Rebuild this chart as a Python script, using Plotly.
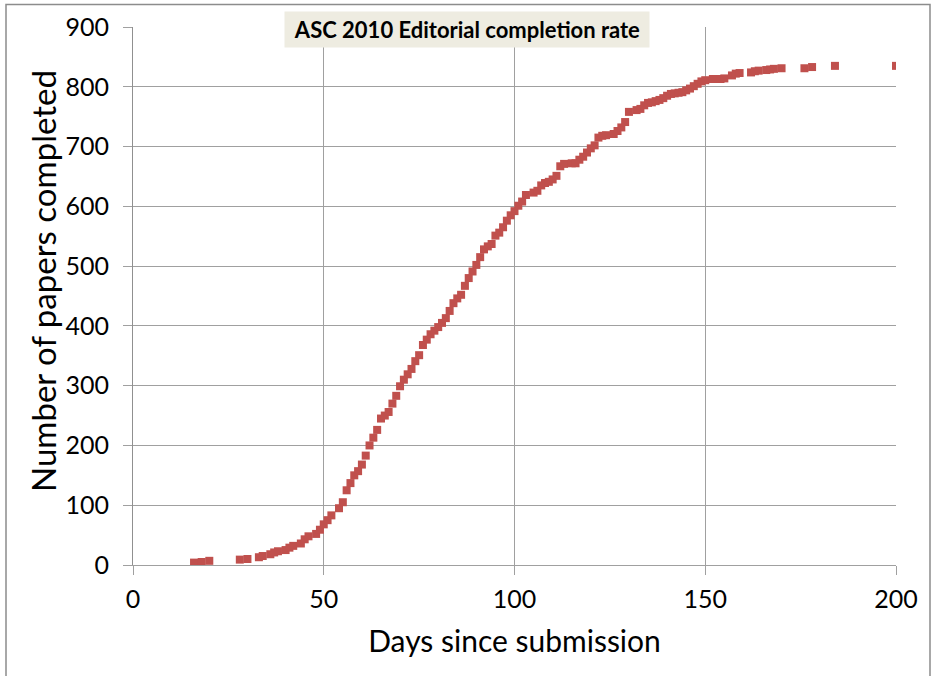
import plotly.graph_objects as go

days = [16, 18, 20, 28, 30, 33, 34, 36, 37, 38, 40, 41, 42, 44, 45, 46, 48, 49, 50,
        51, 52, 54, 55, 56, 57, 58, 59, 60, 61, 62, 63, 64, 65, 66, 67, 68, 69, 70,
        71, 72, 73, 74, 75, 76, 77, 78, 79, 80, 81, 82, 83, 84, 85, 86, 87, 88, 89, 90,
        91, 92, 93, 94, 95, 96, 97, 98, 99, 100, 101, 102, 103, 105, 106, 107, 108, 109, 110,
        111, 112, 113, 115, 116, 117, 118, 119, 120, 121, 122, 123, 124, 126, 127, 128, 129, 130,
        132, 133, 134, 135, 136, 137, 138, 139, 140, 141, 142, 143, 144, 145, 146, 147, 148, 149, 150,
        152, 153, 154, 155, 157, 158, 159, 162, 163, 164, 166, 167, 168, 170, 176, 178, 184, 200]
papers = [4, 5, 7, 9, 10, 13, 15, 18, 21, 23, 25, 29, 32, 36, 43, 48, 52, 59, 68,
          75, 83, 95, 105, 125, 137, 150, 157, 168, 183, 200, 213, 226, 245, 250, 256, 270, 283, 299,
          310, 319, 328, 341, 351, 368, 377, 386, 392, 398, 405, 413, 425, 438, 446, 452, 467, 480, 491, 502,
          515, 528, 533, 537, 551, 556, 565, 576, 585, 592, 601, 608, 619, 623, 626, 635, 639, 641, 645,
          651, 667, 671, 672, 672, 678, 683, 690, 697, 702, 715, 718, 719, 721, 726, 732, 741, 758,
          761, 763, 769, 773, 774, 776, 778, 781, 785, 788, 789, 790, 791, 794, 797, 801, 805, 809, 811,
          813, 813, 813, 814, 819, 822, 823, 824, 826, 827, 828, 829, 830, 831, 831, 833, 835, 835]

x_ticks = [0, 50, 100, 150, 200]
y_ticks = [0, 100, 200, 300, 400, 500, 600, 700, 800, 900]

title_text = "ASC 2010 Editorial completion rate"
x_title = "Days since submission"
y_title = "Number of papers completed"

FONT = "Lato, Calibri, 'Open Sans', sans-serif"

fig = go.Figure()
fig.add_trace(go.Scatter(
    x=days, y=papers, mode="markers",
    marker=dict(symbol="square", size=8, color="#C0504D", line=dict(width=0)),
    showlegend=False, hoverinfo="skip",
))

W, H = 931, 676
L, R, T, B = 133, 35, 27, 111
pw, ph = W - L - R, H - T - B

def px(xp):
    return (xp - L) / pw

def py(yp):
    return (H - B - yp) / ph

fig.update_layout(
    width=W, height=H,
    margin=dict(l=L, r=R, t=T, b=B),
    paper_bgcolor="white", plot_bgcolor="white",
    font=dict(family=FONT, color="black"),
    xaxis=dict(
        range=[0, 200], tickvals=x_ticks, ticktext=[str(v) for v in x_ticks],
        showgrid=True, gridcolor="#A0A0A0", gridwidth=1.2,
        ticks="outside", ticklen=9, tickcolor="#A0A0A0",
        showline=True, linecolor="#A0A0A0", linewidth=1.2,
        zeroline=False, ticklabelstandoff=3,
        tickfont=dict(size=25, family=FONT),
        title=dict(text=x_title, font=dict(size=30, family=FONT), standoff=18),
    ),
    yaxis=dict(
        range=[0, 900], tickvals=y_ticks, ticktext=[str(v) for v in y_ticks],
        showgrid=True, gridcolor="#A0A0A0", gridwidth=1.2,
        ticks="outside", ticklen=9, tickcolor="#A0A0A0",
        showline=True, linecolor="#909090", linewidth=1.2,
        zeroline=False, ticklabelstandoff=9,
        tickfont=dict(size=25, family=FONT),
    ),
    shapes=[dict(
        type="rect", xref="paper", yref="paper",
        x0=px(6), x1=px(930), y0=py(H + 10), y1=py(4.5),
        line=dict(color="#8C8C8C", width=1.5), fillcolor="rgba(0,0,0,0)", layer="below",
    )],
    annotations=[
        dict(
            text="<b>" + title_text + "</b>", xref="paper", yref="paper",
            x=px(467), y=py(30), xanchor="center", yanchor="middle",
            showarrow=False, bgcolor="#EEECE1", width=362, height=33,
            font=dict(size=22, family=FONT, color="black"),
        ),
        dict(
            text=y_title, xref="paper", yref="paper",
            x=px(43), y=py(281), xanchor="center", yanchor="middle",
            showarrow=False, textangle=-90,
            font=dict(size=33, family=FONT, color="black"),
        ),
    ],
)

fig.write_html(
    "out.html",
    config={"displayModeBar": False},
    post_script="document.body.style.margin='0';document.body.style.padding='0';document.body.style.overflow='hidden';",
)
